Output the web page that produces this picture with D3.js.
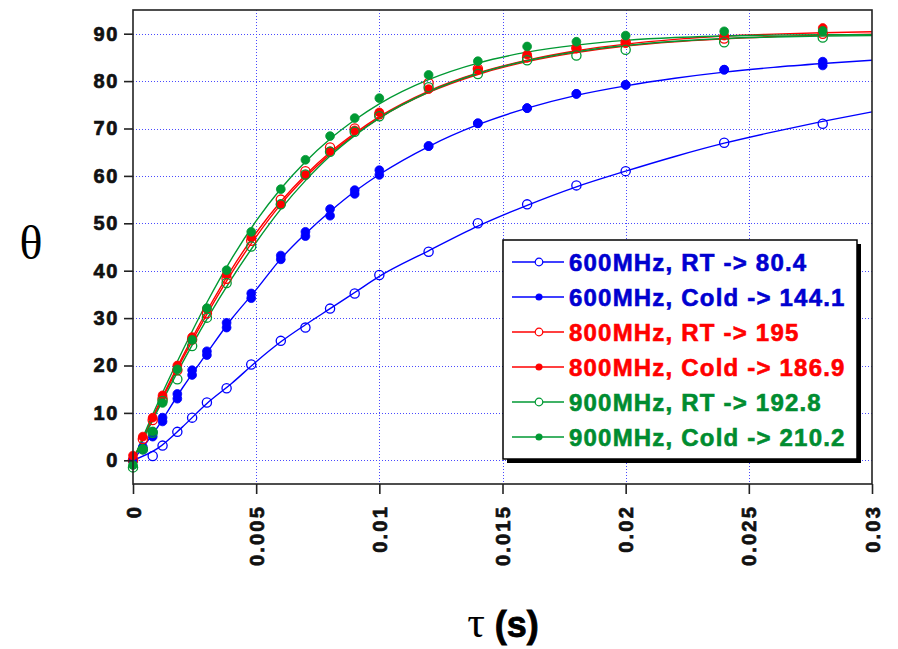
<!DOCTYPE html>
<html>
<head>
<meta charset="utf-8">
<script src="https://cdn.jsdelivr.net/npm/d3@7"></script>
<style>
  body { margin: 0; background: #fff; }
  svg { display: block; }
</style>
</head>
<body>
<div id="chart"></div>
<script>
// measured time points (s)
const tauPts = [0, 0.0004, 0.0008, 0.0012, 0.0018, 0.0024, 0.003, 0.0038, 0.0048, 0.006, 0.007,
                0.008, 0.009, 0.01, 0.012, 0.014, 0.016, 0.018, 0.02, 0.024, 0.028];

const rt600    = [0, null, 0.9, 3.1, 6, 9, 12.2, 15.2, 20.2, 25.2, 28, 32, 35.2, 39.1, 44, 50, 54, 58, 61, 67, 71];
const cold600a = [0, 2.3, 5, 8.2, 13, 18, 22.2, 28, 34.2, 42.4, 47.3, 51.6, 56.2, 60.2, 66.3, 71.1, 74.3, 77.3, 79.2, 82.4, 83.3];
const cold600b = [0, 2.8, 6, 9, 14, 19, 23, 29, 35.2, 43.2, 48.2, 53, 57, 61.2, 66.3, 71.1, 74.3, 77.3, 79.2, 82.4, 84.1];
const rt800    = [0, 4.5, 8.5, 13, 19, 25.5, 31, 38.3, 46.3, 55, 61, 66, 70, 73, 79.6, 82.6, 85, 87, 88.2, 89, 90];
const cold800  = [1, 5, 9, 13.7, 20, 26, 31.9, 39.1, 47, 54, 60.2, 65.2, 69.6, 73.4, 78.3, 82.4, 85.6, 86.9, 88, 89.6, 91.2];
const rt900    = [-1.5, 2.3, 5.8, 12.5, 17.1, 24.1, 30.1, 37.4, 45.1, 54, 60.3, 65.1, 69.3, 72.6, 78.7, 81.5, 84.4, 85.4, 86.6, 88.2, 89.2];
const cold900  = [-1, 2.4, 6.1, 12.1, 19.2, 25.4, 32.1, 40.1, 48.2, 57.2, 63.4, 68.4, 72.2, 76.4, 81.3, 84.2, 87.3, 88.3, 89.6, 90.5, 90.6];

// fitted curves
const fitTau = [0, 0.001, 0.002, 0.003, 0.004, 0.005, 0.006, 0.007, 0.008, 0.009, 0.01,
                0.012, 0.014, 0.016, 0.018, 0.02, 0.022, 0.024, 0.026, 0.028, 0.03];
const fitRt600   = [0, 2.5, 7, 12, 16.2, 20.8, 25, 28.6, 32, 35.4, 38.8, 44.2, 49.4, 53.8, 57.7, 61, 64.1, 66.9, 69.3, 71.5, 73.5];
const fitCold600 = [0, 7, 15.2, 22.6, 29.8, 36, 42.5, 47.8, 52.5, 56.7, 60.3, 66.2, 70.8, 74.3, 77, 79, 80.6, 81.9, 82.9, 83.7, 84.4];
const fitRt800   = [0, 11, 21.3, 30.8, 39.5, 47.2, 54, 59.7, 64.6, 68.7, 72.2, 77.6, 81.4, 84.1, 86, 87.4, 88.3, 88.9, 89.4, 89.7, 89.9];
const fitCold800 = [0, 11.3, 21.8, 31.5, 40.3, 48, 54.6, 60.2, 65, 69, 72.5, 77.9, 81.7, 84.4, 86.4, 87.8, 88.8, 89.5, 89.9, 90.2, 90.4];
const fitRt900   = [0, 10.5, 20.5, 29.8, 38.3, 46, 53, 59, 64.2, 68.5, 72.2, 77.7, 81.6, 84.3, 86.2, 87.5, 88.4, 89, 89.3, 89.5, 89.6];
const fitCold900 = [0, 12, 23, 33.3, 42.5, 50.5, 57.3, 63, 67.8, 71.8, 75.2, 80.3, 83.8, 86.1, 87.6, 88.6, 89.2, 89.5, 89.7, 89.8, 89.8];

const xTicks = [0, 0.005, 0.01, 0.015, 0.02, 0.025, 0.03];
const xTickLabels = ["0", "0.005", "0.01", "0.015", "0.02", "0.025", "0.03"];
const yTicks = [0, 10, 20, 30, 40, 50, 60, 70, 80, 90];

const BLUE = "#0000ff", RED = "#ff0000", GREEN = "#009933";
const BLUE_TXT = "#0000d0", GREEN_TXT = "#008c30";

const series = [
  { label: "600MHz, RT -> 80.4",    color: BLUE,  text: BLUE_TXT,  open: true,  pts: [rt600],              fit: fitRt600 },
  { label: "600MHz, Cold -> 144.1", color: BLUE,  text: BLUE_TXT,  open: false, pts: [cold600a, cold600b], fit: fitCold600 },
  { label: "800MHz, RT -> 195",     color: RED,   text: RED,       open: true,  pts: [rt800],              fit: fitRt800 },
  { label: "800MHz, Cold -> 186.9", color: RED,   text: RED,       open: false, pts: [cold800],            fit: fitCold800 },
  { label: "900MHz, RT -> 192.8",   color: GREEN, text: GREEN_TXT, open: true,  pts: [rt900],              fit: fitRt900 },
  { label: "900MHz, Cold -> 210.2", color: GREEN, text: GREEN_TXT, open: false, pts: [cold900],            fit: fitCold900 }
];

const width = 898, height = 649;
const plotL = 133, plotR = 872, plotT = 10, plotB = 484;

const svg = d3.select("#chart").append("svg")
    .attr("width", width).attr("height", height);

const x = d3.scaleLinear().domain([0, 0.03]).range([plotL, plotR]);
const y = d3.scaleLinear().domain([-5, 95]).range([plotB, plotT]);

// grid
const grid = svg.append("g").attr("stroke", "#4a4aff").attr("stroke-width", 1)
    .attr("stroke-dasharray", "1,2");
grid.selectAll(".gx").data(xTicks.slice(1, -1)).enter().append("line")
    .attr("x1", d => Math.round(x(d)) + 0.5).attr("x2", d => Math.round(x(d)) + 0.5)
    .attr("y1", plotT).attr("y2", plotB);
grid.selectAll(".gy").data(yTicks).enter().append("line")
    .attr("x1", plotL).attr("x2", plotR)
    .attr("y1", d => Math.round(y(d)) + 0.5).attr("y2", d => Math.round(y(d)) + 0.5);

// fit lines
const line = d3.line().curve(d3.curveMonotoneX)
    .x(d => x(d[0])).y(d => y(d[1]));
series.forEach(s => {
  svg.append("path")
      .datum(fitTau.map((t, i) => [t, s.fit[i]]))
      .attr("fill", "none").attr("stroke", s.color).attr("stroke-width", 1.4)
      .attr("d", line);
});

// points
series.forEach(s => {
  s.pts.forEach(arr => {
    const data = tauPts.map((t, i) => [t, arr[i]]).filter(d => d[1] !== null);
    svg.append("g").selectAll("circle").data(data).enter().append("circle")
        .attr("cx", d => x(d[0])).attr("cy", d => y(d[1]))
        .attr("r", s.open ? 4.6 : 4.4)
        .attr("fill", s.open ? "none" : s.color)
        .attr("stroke", s.color).attr("stroke-width", s.open ? 1.3 : 0.8);
  });
});

// frame
svg.append("rect").attr("x", plotL).attr("y", plotT)
    .attr("width", plotR - plotL).attr("height", plotB - plotT)
    .attr("fill", "none").attr("stroke", "#222").attr("stroke-width", 1.6);

// axes
const fontAxis = "'Liberation Sans', Arial, sans-serif";
const yAxis = svg.append("g").attr("transform", `translate(${plotL},0)`)
    .call(d3.axisLeft(y).tickValues(yTicks).tickSize(9).tickPadding(5));
yAxis.select(".domain").remove();
yAxis.selectAll("line").attr("stroke", "#222").attr("stroke-width", 1.6);
yAxis.selectAll("text")
    .attr("font-family", fontAxis).attr("font-weight", "bold")
    .attr("font-size", 20).attr("letter-spacing", "1.6px").attr("fill", "#111")
    .attr("stroke", "#111").attr("stroke-width", 0.7);

const xAxis = svg.append("g").attr("transform", `translate(0,${plotB})`)
    .call(d3.axisBottom(x).tickValues(xTicks).tickSize(10)
      .tickFormat((d, i) => xTickLabels[i]));
xAxis.select(".domain").remove();
xAxis.selectAll("line").attr("stroke", "#222").attr("stroke-width", 1.6);
xAxis.selectAll("text")
    .attr("font-family", fontAxis).attr("font-weight", "bold")
    .attr("font-size", 20).attr("letter-spacing", "2.2px").attr("fill", "#111")
    .attr("stroke", "#111").attr("stroke-width", 0.7)
    .attr("transform", "rotate(-90)")
    .attr("text-anchor", "end")
    .attr("x", -21).attr("y", 0).attr("dy", "0.35em");

// axis titles
svg.append("text").attr("x", 31).attr("y", 259)
    .attr("text-anchor", "middle")
    .attr("font-family", "'Liberation Serif', 'Times New Roman', serif")
    .attr("font-size", 48).text("θ");

const tauLabel = svg.append("text").attr("x", 503).attr("y", 637)
    .attr("text-anchor", "middle");
tauLabel.append("tspan")
    .attr("font-family", "'Liberation Serif', 'Times New Roman', serif")
    .attr("font-size", 44).text("τ");
tauLabel.append("tspan")
    .attr("font-family", fontAxis).attr("font-weight", "bold")
    .attr("stroke", "#000").attr("stroke-width", 0.8)
    .attr("font-size", 36).text(" (s)");

// legend
const lg = svg.append("g");
const lx = 503, ly = 240, lw = 354, lh = 219;
lg.append("rect").attr("x", lx + 4).attr("y", ly + 4).attr("width", lw).attr("height", lh).attr("fill", "#000");
lg.append("rect").attr("x", lx).attr("y", ly).attr("width", lw).attr("height", lh)
    .attr("fill", "#fff").attr("stroke", "#000").attr("stroke-width", 1.5);

const rowY = d3.scalePoint().domain(series.map(s => s.label)).range([262, 437]);
const rows = lg.selectAll(".row").data(series).enter().append("g")
    .attr("transform", d => `translate(0,${rowY(d.label)})`);
rows.append("line").attr("x1", lx + 9).attr("x2", lx + 61)
    .attr("stroke", d => d.color).attr("stroke-width", 1.4);
rows.append("circle").attr("cx", lx + 36).attr("r", d => d.open ? 3.8 : 3)
    .attr("fill", d => d.open ? "#fff" : d.color)
    .attr("stroke", d => d.color).attr("stroke-width", 1.2);
rows.append("text").attr("x", lx + 66).attr("dy", "0.36em")
    .attr("font-family", fontAxis).attr("font-weight", "bold")
    .attr("font-size", 24).attr("letter-spacing", "1.2px")
    .attr("stroke", d => d.text).attr("stroke-width", 0.6)
    .attr("fill", d => d.text).text(d => d.label);
</script>
</body>
</html>
